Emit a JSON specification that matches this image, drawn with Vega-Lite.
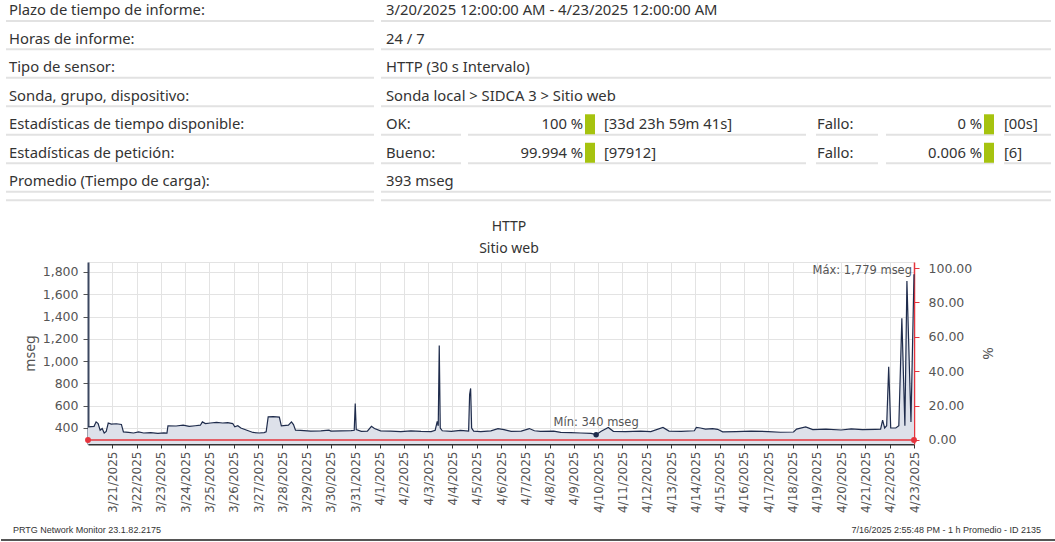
{
  "$schema": "https://vega.github.io/schema/vega-lite/v6.json",
  "padding": 0,
  "background": "white",
  "bounds": "flush",
  "spacing": 57,
  "config": {"view": {"stroke": null}, "font": "Noto Sans"},
  "datasets": {
    "info": [
      {"row": 1, "col": "A", "text": "Plazo de tiempo de informe:"},
      {"row": 1, "col": "B", "text": "3/20/2025 12:00:00 AM - 4/23/2025 12:00:00 AM"},
      {"row": 2, "col": "A", "text": "Horas de informe:"},
      {"row": 2, "col": "B", "text": "24 / 7"},
      {"row": 3, "col": "A", "text": "Tipo de sensor:"},
      {"row": 3, "col": "B", "text": "HTTP (30 s Intervalo)"},
      {"row": 4, "col": "A", "text": "Sonda, grupo, dispositivo:"},
      {"row": 4, "col": "B", "text": "Sonda local > SIDCA 3 > Sitio web"},
      {"row": 5, "col": "A", "text": "Estadísticas de tiempo disponible:"},
      {"row": 5, "col": "B", "text": "OK:"},
      {"row": 5, "col": "C", "text": "100 %"},
      {"row": 5, "col": "D", "text": "[33d 23h 59m 41s]"},
      {"row": 5, "col": "E", "text": "Fallo:"},
      {"row": 5, "col": "F", "text": "0 %"},
      {"row": 5, "col": "G", "text": "[00s]"},
      {"row": 6, "col": "A", "text": "Estadísticas de petición:"},
      {"row": 6, "col": "B", "text": "Bueno:"},
      {"row": 6, "col": "C", "text": "99.994 %"},
      {"row": 6, "col": "D", "text": "[97912]"},
      {"row": 6, "col": "E", "text": "Fallo:"},
      {"row": 6, "col": "F", "text": "0.006 %"},
      {"row": 6, "col": "G", "text": "[6]"},
      {"row": 7, "col": "A", "text": "Promedio (Tiempo de carga):"},
      {"row": 7, "col": "B", "text": "393 mseg"}
    ],
    "ms": [
      {"t": "2025-03-20T00:00", "v": 410}, {"t": "2025-03-20T06:00", "v": 415}, {"t": "2025-03-20T08:00", "v": 455},
      {"t": "2025-03-20T10:00", "v": 440}, {"t": "2025-03-20T12:00", "v": 380}, {"t": "2025-03-20T14:00", "v": 395},
      {"t": "2025-03-20T16:00", "v": 355}, {"t": "2025-03-20T18:00", "v": 370}, {"t": "2025-03-20T20:00", "v": 445},
      {"t": "2025-03-20T23:00", "v": 435}, {"t": "2025-03-21T04:00", "v": 438}, {"t": "2025-03-21T09:00", "v": 432},
      {"t": "2025-03-21T11:00", "v": 365}, {"t": "2025-03-21T16:00", "v": 360}, {"t": "2025-03-21T21:00", "v": 355},
      {"t": "2025-03-22T02:00", "v": 365}, {"t": "2025-03-22T07:00", "v": 355}, {"t": "2025-03-22T14:00", "v": 358},
      {"t": "2025-03-22T21:00", "v": 352}, {"t": "2025-03-23T03:00", "v": 356}, {"t": "2025-03-23T06:00", "v": 355},
      {"t": "2025-03-23T07:00", "v": 420}, {"t": "2025-03-23T15:00", "v": 418}, {"t": "2025-03-23T22:00", "v": 425},
      {"t": "2025-03-24T04:00", "v": 415}, {"t": "2025-03-24T10:00", "v": 420}, {"t": "2025-03-24T15:00", "v": 425},
      {"t": "2025-03-24T17:00", "v": 455}, {"t": "2025-03-24T20:00", "v": 440}, {"t": "2025-03-25T01:00", "v": 445},
      {"t": "2025-03-25T07:00", "v": 450}, {"t": "2025-03-25T13:00", "v": 445}, {"t": "2025-03-25T18:00", "v": 448},
      {"t": "2025-03-25T23:00", "v": 440}, {"t": "2025-03-26T01:00", "v": 410}, {"t": "2025-03-26T04:00", "v": 420},
      {"t": "2025-03-26T07:00", "v": 400}, {"t": "2025-03-26T13:00", "v": 380}, {"t": "2025-03-26T19:00", "v": 360},
      {"t": "2025-03-27T01:00", "v": 355}, {"t": "2025-03-27T06:00", "v": 358}, {"t": "2025-03-27T08:00", "v": 365},
      {"t": "2025-03-27T10:00", "v": 500}, {"t": "2025-03-27T15:00", "v": 502}, {"t": "2025-03-27T21:00", "v": 498},
      {"t": "2025-03-27T23:00", "v": 420}, {"t": "2025-03-28T06:00", "v": 425}, {"t": "2025-03-28T09:00", "v": 455},
      {"t": "2025-03-28T11:00", "v": 430}, {"t": "2025-03-28T13:00", "v": 380}, {"t": "2025-03-28T18:00", "v": 378},
      {"t": "2025-03-29T04:00", "v": 372}, {"t": "2025-03-29T14:00", "v": 375}, {"t": "2025-03-29T22:00", "v": 380},
      {"t": "2025-03-30T00:00", "v": 372}, {"t": "2025-03-30T10:00", "v": 374}, {"t": "2025-03-30T20:00", "v": 376},
      {"t": "2025-03-30T23:00", "v": 380}, {"t": "2025-03-31T00:00", "v": 620}, {"t": "2025-03-31T01:00", "v": 385},
      {"t": "2025-03-31T06:00", "v": 370}, {"t": "2025-03-31T12:00", "v": 372}, {"t": "2025-03-31T16:00", "v": 415},
      {"t": "2025-03-31T19:00", "v": 395}, {"t": "2025-04-01T01:00", "v": 375}, {"t": "2025-04-01T11:00", "v": 372},
      {"t": "2025-04-01T21:00", "v": 368}, {"t": "2025-04-02T07:00", "v": 375}, {"t": "2025-04-02T17:00", "v": 370},
      {"t": "2025-04-03T03:00", "v": 368}, {"t": "2025-04-03T07:00", "v": 380}, {"t": "2025-04-03T09:00", "v": 460},
      {"t": "2025-04-03T10:00", "v": 420}, {"t": "2025-04-03T11:00", "v": 1140}, {"t": "2025-04-03T12:00", "v": 400},
      {"t": "2025-04-03T14:00", "v": 375}, {"t": "2025-04-03T23:00", "v": 370}, {"t": "2025-04-04T08:00", "v": 378},
      {"t": "2025-04-04T16:00", "v": 372}, {"t": "2025-04-04T17:00", "v": 700}, {"t": "2025-04-04T18:00", "v": 755},
      {"t": "2025-04-04T19:00", "v": 400}, {"t": "2025-04-04T21:00", "v": 372}, {"t": "2025-04-05T04:00", "v": 368},
      {"t": "2025-04-05T14:00", "v": 375}, {"t": "2025-04-05T21:00", "v": 395}, {"t": "2025-04-06T03:00", "v": 385},
      {"t": "2025-04-06T10:00", "v": 370}, {"t": "2025-04-06T20:00", "v": 372}, {"t": "2025-04-07T04:00", "v": 395},
      {"t": "2025-04-07T09:00", "v": 375}, {"t": "2025-04-07T15:00", "v": 370}, {"t": "2025-04-08T04:00", "v": 372},
      {"t": "2025-04-08T11:00", "v": 360}, {"t": "2025-04-08T21:00", "v": 358}, {"t": "2025-04-09T07:00", "v": 355},
      {"t": "2025-04-09T17:00", "v": 352}, {"t": "2025-04-09T22:00", "v": 340}, {"t": "2025-04-10T03:00", "v": 370},
      {"t": "2025-04-10T10:00", "v": 405}, {"t": "2025-04-10T15:00", "v": 370}, {"t": "2025-04-11T03:00", "v": 368},
      {"t": "2025-04-11T18:00", "v": 372}, {"t": "2025-04-12T04:00", "v": 368}, {"t": "2025-04-12T16:00", "v": 405},
      {"t": "2025-04-12T22:00", "v": 372}, {"t": "2025-04-13T10:00", "v": 370}, {"t": "2025-04-13T23:00", "v": 375},
      {"t": "2025-04-14T01:00", "v": 405}, {"t": "2025-04-14T05:00", "v": 400}, {"t": "2025-04-14T10:00", "v": 390},
      {"t": "2025-04-14T17:00", "v": 395}, {"t": "2025-04-14T22:00", "v": 388}, {"t": "2025-04-15T03:00", "v": 365},
      {"t": "2025-04-15T16:00", "v": 368}, {"t": "2025-04-16T07:00", "v": 372}, {"t": "2025-04-17T00:00", "v": 368},
      {"t": "2025-04-17T12:00", "v": 362}, {"t": "2025-04-18T01:00", "v": 364}, {"t": "2025-04-18T04:00", "v": 390},
      {"t": "2025-04-18T13:00", "v": 410}, {"t": "2025-04-18T20:00", "v": 385}, {"t": "2025-04-19T09:00", "v": 390},
      {"t": "2025-04-20T00:00", "v": 382}, {"t": "2025-04-20T10:00", "v": 392}, {"t": "2025-04-20T21:00", "v": 385},
      {"t": "2025-04-21T10:00", "v": 388}, {"t": "2025-04-21T15:00", "v": 390}, {"t": "2025-04-21T17:00", "v": 470},
      {"t": "2025-04-21T19:00", "v": 400}, {"t": "2025-04-21T21:00", "v": 420}, {"t": "2025-04-21T23:00", "v": 950},
      {"t": "2025-04-22T01:00", "v": 400}, {"t": "2025-04-22T06:00", "v": 400}, {"t": "2025-04-22T09:00", "v": 420},
      {"t": "2025-04-22T12:00", "v": 1385}, {"t": "2025-04-22T15:00", "v": 420}, {"t": "2025-04-22T17:00", "v": 1720},
      {"t": "2025-04-22T21:00", "v": 455}, {"t": "2025-04-23T00:00", "v": 1779}
    ],
    "notes": [
      {"kind": "min", "t": "2025-04-09T22:00", "v": 340, "label": "Mín: 340 mseg"},
      {"kind": "max", "t": "2025-04-23T00:00", "v": 1779, "label": "Máx: 1,779 mseg"}
    ],
    "down": [
      {"t": "2025-03-20T00:00", "p": 0},
      {"t": "2025-04-23T00:00", "p": 0}
    ],
    "footer": [
      {"side": "left", "text": "PRTG Network Monitor 23.1.82.2175"},
      {"side": "right", "text": "7/16/2025 2:55:48 PM - 1 h Promedio - ID 2135"}
    ]
  },
  "vconcat": [
    {
      "width": 826,
      "height": 205,
      "data": {"name": "info"},
      "encoding": {
        "y": {"field": "row", "type": "quantitative", "scale": {"domain": [0.6, 7.8], "reverse": true, "nice": false, "zero": false}, "axis": null}
      },
      "layer": [
        {"transform": [{"filter": "datum.col=='A'"}], "mark": {"type": "rule", "color": "#e2e2e2", "strokeWidth": 2, "yOffset": 9.5},
         "encoding": {"x": {"datum": 5, "type": "quantitative", "scale": {"domain": [87, 913], "nice": false, "zero": false}, "axis": null}, "x2": {"datum": 373}}},
        {"transform": [{"filter": "datum.col=='B' && (datum.row<5 || datum.row==7)"}], "mark": {"type": "rule", "color": "#e2e2e2", "strokeWidth": 2, "yOffset": 9.5},
         "encoding": {"x": {"datum": 380, "type": "quantitative", "scale": {"domain": [87, 913], "nice": false, "zero": false}, "axis": null}, "x2": {"datum": 1050}}},
        {"transform": [{"filter": "datum.col=='B' && (datum.row==5 || datum.row==6)"}], "mark": {"type": "rule", "color": "#e2e2e2", "strokeWidth": 2, "yOffset": 9.5},
         "encoding": {"x": {"datum": 380, "type": "quantitative", "scale": {"domain": [87, 913], "nice": false, "zero": false}, "axis": null}, "x2": {"datum": 460}}},
        {"transform": [{"filter": "datum.col=='B' && (datum.row==5 || datum.row==6)"}], "mark": {"type": "rule", "color": "#e2e2e2", "strokeWidth": 2, "yOffset": 9.5},
         "encoding": {"x": {"datum": 467, "type": "quantitative", "scale": {"domain": [87, 913], "nice": false, "zero": false}, "axis": null}, "x2": {"datum": 805}}},
        {"transform": [{"filter": "datum.col=='B' && (datum.row==5 || datum.row==6)"}], "mark": {"type": "rule", "color": "#e2e2e2", "strokeWidth": 2, "yOffset": 9.5},
         "encoding": {"x": {"datum": 815, "type": "quantitative", "scale": {"domain": [87, 913], "nice": false, "zero": false}, "axis": null}, "x2": {"datum": 877}}},
        {"transform": [{"filter": "datum.col=='B' && (datum.row==5 || datum.row==6)"}], "mark": {"type": "rule", "color": "#e2e2e2", "strokeWidth": 2, "yOffset": 9.5},
         "encoding": {"x": {"datum": 885, "type": "quantitative", "scale": {"domain": [87, 913], "nice": false, "zero": false}, "axis": null}, "x2": {"datum": 993}}},
        {"transform": [{"filter": "datum.col=='B' && (datum.row==5 || datum.row==6)"}], "mark": {"type": "rule", "color": "#e2e2e2", "strokeWidth": 2, "yOffset": 9.5},
         "encoding": {"x": {"datum": 1003, "type": "quantitative", "scale": {"domain": [87, 913], "nice": false, "zero": false}, "axis": null}, "x2": {"datum": 1050}}},
        {"transform": [{"filter": "datum.col=='A' && datum.row==7"}], "mark": {"type": "rule", "color": "#e2e2e2", "strokeWidth": 2, "yOffset": 18},
         "encoding": {"x": {"datum": 5, "type": "quantitative", "scale": {"domain": [87, 913], "nice": false, "zero": false}, "axis": null}, "x2": {"datum": 373}}},
        {"transform": [{"filter": "datum.col=='B' && datum.row==7"}], "mark": {"type": "rule", "color": "#e2e2e2", "strokeWidth": 2, "yOffset": 18},
         "encoding": {"x": {"datum": 380, "type": "quantitative", "scale": {"domain": [87, 913], "nice": false, "zero": false}, "axis": null}, "x2": {"datum": 1050}}},
        {"transform": [{"filter": "datum.col=='C'"}], "mark": {"type": "rect", "color": "#a6c30f", "yOffset": -11, "y2Offset": 9},
         "encoding": {"x": {"datum": 584, "type": "quantitative", "scale": {"domain": [87, 913], "nice": false, "zero": false}, "axis": null}, "x2": {"datum": 594}, "y2": {"field": "row"}}},
        {"transform": [{"filter": "datum.col=='F'"}], "mark": {"type": "rect", "color": "#a6c30f", "yOffset": -11, "y2Offset": 9},
         "encoding": {"x": {"datum": 983, "type": "quantitative", "scale": {"domain": [87, 913], "nice": false, "zero": false}, "axis": null}, "x2": {"datum": 993}, "y2": {"field": "row"}}},
        {"transform": [{"filter": "datum.col=='A'"}], "mark": {"type": "text", "align": "left", "baseline": "middle", "font": "Noto Sans", "fontSize": 14.8, "color": "#333"},
         "encoding": {"x": {"datum": 8, "type": "quantitative", "scale": {"domain": [87, 913], "nice": false, "zero": false}, "axis": null}, "text": {"field": "text"}}},
        {"transform": [{"filter": "datum.col=='B'"}], "mark": {"type": "text", "align": "left", "baseline": "middle", "font": "Noto Sans", "fontSize": 14.8, "color": "#333"},
         "encoding": {"x": {"datum": 385, "type": "quantitative", "scale": {"domain": [87, 913], "nice": false, "zero": false}, "axis": null}, "text": {"field": "text"}}},
        {"transform": [{"filter": "datum.col=='C'"}], "mark": {"type": "text", "align": "right", "baseline": "middle", "font": "Noto Sans", "fontSize": 14.8, "color": "#333"},
         "encoding": {"x": {"datum": 582, "type": "quantitative", "scale": {"domain": [87, 913], "nice": false, "zero": false}, "axis": null}, "text": {"field": "text"}}},
        {"transform": [{"filter": "datum.col=='D'"}], "mark": {"type": "text", "align": "left", "baseline": "middle", "font": "Noto Sans", "fontSize": 14.8, "color": "#333"},
         "encoding": {"x": {"datum": 603, "type": "quantitative", "scale": {"domain": [87, 913], "nice": false, "zero": false}, "axis": null}, "text": {"field": "text"}}},
        {"transform": [{"filter": "datum.col=='E'"}], "mark": {"type": "text", "align": "left", "baseline": "middle", "font": "Noto Sans", "fontSize": 14.8, "color": "#333"},
         "encoding": {"x": {"datum": 816, "type": "quantitative", "scale": {"domain": [87, 913], "nice": false, "zero": false}, "axis": null}, "text": {"field": "text"}}},
        {"transform": [{"filter": "datum.col=='F'"}], "mark": {"type": "text", "align": "right", "baseline": "middle", "font": "Noto Sans", "fontSize": 14.8, "color": "#333"},
         "encoding": {"x": {"datum": 981, "type": "quantitative", "scale": {"domain": [87, 913], "nice": false, "zero": false}, "axis": null}, "text": {"field": "text"}}},
        {"transform": [{"filter": "datum.col=='G'"}], "mark": {"type": "text", "align": "left", "baseline": "middle", "font": "Noto Sans", "fontSize": 14.8, "color": "#333"},
         "encoding": {"x": {"datum": 1003, "type": "quantitative", "scale": {"domain": [87, 913], "nice": false, "zero": false}, "axis": null}, "text": {"field": "text"}}}
      ]
    },
    {
      "width": 826,
      "height": 182,
      "view": {"stroke": "#e3e3e3"},
      "title": {"text": "HTTP", "subtitle": "Sitio web", "anchor": "middle", "frame": "bounds", "font": "Noto Sans", "fontSize": 14, "fontWeight": "normal", "color": "#333", "subtitleFont": "Noto Sans", "subtitleFontSize": 14, "subtitleColor": "#333", "subtitlePadding": 8, "offset": 6},
      "resolve": {"scale": {"y": "independent"}},
      "encoding": {
        "x": {"field": "t", "type": "temporal",
          "scale": {"domain": [{"year": 2025, "month": 3, "date": 20}, {"year": 2025, "month": 4, "date": 23}]},
          "axis": {
            "values": [
              {"year": 2025, "month": 3, "date": 21}, {"year": 2025, "month": 3, "date": 22}, {"year": 2025, "month": 3, "date": 23},
              {"year": 2025, "month": 3, "date": 24}, {"year": 2025, "month": 3, "date": 25}, {"year": 2025, "month": 3, "date": 26},
              {"year": 2025, "month": 3, "date": 27}, {"year": 2025, "month": 3, "date": 28}, {"year": 2025, "month": 3, "date": 29},
              {"year": 2025, "month": 3, "date": 30}, {"year": 2025, "month": 3, "date": 31}, {"year": 2025, "month": 4, "date": 1},
              {"year": 2025, "month": 4, "date": 2}, {"year": 2025, "month": 4, "date": 3}, {"year": 2025, "month": 4, "date": 4},
              {"year": 2025, "month": 4, "date": 5}, {"year": 2025, "month": 4, "date": 6}, {"year": 2025, "month": 4, "date": 7},
              {"year": 2025, "month": 4, "date": 8}, {"year": 2025, "month": 4, "date": 9}, {"year": 2025, "month": 4, "date": 10},
              {"year": 2025, "month": 4, "date": 11}, {"year": 2025, "month": 4, "date": 12}, {"year": 2025, "month": 4, "date": 13},
              {"year": 2025, "month": 4, "date": 14}, {"year": 2025, "month": 4, "date": 15}, {"year": 2025, "month": 4, "date": 16},
              {"year": 2025, "month": 4, "date": 17}, {"year": 2025, "month": 4, "date": 18}, {"year": 2025, "month": 4, "date": 19},
              {"year": 2025, "month": 4, "date": 20}, {"year": 2025, "month": 4, "date": 21}, {"year": 2025, "month": 4, "date": 22},
              {"year": 2025, "month": 4, "date": 23}
            ],
            "format": "%-m/%-d/%Y", "labelAngle": -90, "labelFont": "DejaVu Sans", "labelFontSize": 12, "labelColor": "#555",
            "labelPadding": 3, "labelOverlap": false, "labelFlush": false, "labelBound": false,
            "tickColor": "#333", "tickSize": 4, "domainColor": "#333", "domainWidth": 2,
            "grid": true, "gridColor": "#e3e3e3", "title": null
          }
        }
      },
      "layer": [
        {
          "encoding": {
            "y": {"field": "v", "type": "quantitative",
              "scale": {"domain": [256.4, 1889.7], "nice": false, "zero": false, "clamp": true},
              "axis": {
                "values": [400, 600, 800, 1000, 1200, 1400, 1600, 1800], "format": ",.0f",
                "labelFont": "DejaVu Sans", "labelFontSize": 12.5, "labelColor": "#555", "labelPadding": 5,
                "tickColor": "#555", "tickSize": 5, "domainColor": "#3b4760", "domainWidth": 2,
                "grid": true, "gridColor": "#e3e3e3",
                "title": "mseg", "titleFont": "Noto Sans", "titleFontSize": 14, "titleFontWeight": "normal", "titleColor": "#555", "titlePadding": 5
              }
            }
          },
          "layer": [
            {"data": {"name": "ms"}, "mark": {"type": "area", "color": "#dde1ea", "opacity": 1}},
            {"data": {"name": "ms"}, "mark": {"type": "line", "color": "#1f2c4c", "strokeWidth": 1.2}},
            {"data": {"name": "notes"}, "transform": [{"filter": "datum.kind=='min'"}], "mark": {"type": "point", "filled": true, "color": "#1f2c4c", "size": 30, "opacity": 1}},
            {"data": {"name": "notes"}, "transform": [{"filter": "datum.kind=='min'"}], "mark": {"type": "text", "align": "center", "baseline": "middle", "dy": -12, "font": "DejaVu Sans", "fontSize": 11.5, "color": "#555"}, "encoding": {"text": {"field": "label"}}},
            {"data": {"name": "notes"}, "transform": [{"filter": "datum.kind=='max'"}], "mark": {"type": "text", "align": "right", "baseline": "middle", "dx": -2, "dy": -3, "font": "DejaVu Sans", "fontSize": 11.5, "color": "#555"}, "encoding": {"text": {"field": "label"}}}
          ]
        },
        {
          "data": {"name": "down"},
          "encoding": {
            "y": {"field": "p", "type": "quantitative",
              "scale": {"domain": [-2.33, 103.49], "nice": false, "zero": false},
              "axis": {
                "orient": "right", "values": [0, 20, 40, 60, 80, 100], "format": ".2f",
                "labelFont": "DejaVu Sans", "labelFontSize": 12.5, "labelColor": "#555", "labelPadding": 9,
                "tickColor": "#e5343d", "tickSize": 5, "domainColor": "#e5343d", "domainWidth": 1.5, "grid": false,
                "title": "%", "titleFont": "Noto Sans", "titleFontSize": 15, "titleFontWeight": "normal", "titleColor": "#555", "titlePadding": 8
              }
            }
          },
          "layer": [
            {"mark": {"type": "line", "color": "#e5343d", "strokeWidth": 1.5}},
            {"mark": {"type": "point", "filled": true, "color": "#e5343d", "size": 35, "opacity": 1}}
          ]
        }
      ]
    },
    {
      "width": 826,
      "height": 39,
      "data": {"name": "footer"},
      "layer": [
        {"transform": [{"filter": "datum.side=='left'"}], "mark": {"type": "text", "align": "left", "baseline": "middle", "font": "Liberation Sans", "fontSize": 9, "color": "#333"},
         "encoding": {"x": {"datum": 12, "type": "quantitative", "scale": {"domain": [87, 913], "nice": false, "zero": false}, "axis": null},
                      "y": {"datum": 1, "type": "quantitative", "scale": {"domain": [0, 3.9], "nice": false, "zero": false}, "axis": null},
                      "text": {"field": "text"}}},
        {"transform": [{"filter": "datum.side=='right'"}], "mark": {"type": "text", "align": "right", "baseline": "middle", "font": "Liberation Sans", "fontSize": 9, "color": "#333"},
         "encoding": {"x": {"datum": 1040, "type": "quantitative", "scale": {"domain": [87, 913], "nice": false, "zero": false}, "axis": null},
                      "y": {"datum": 1, "type": "quantitative", "scale": {"domain": [0, 3.9], "nice": false, "zero": false}, "axis": null},
                      "text": {"field": "text"}}},
        {"transform": [{"filter": "datum.side=='left'"}], "mark": {"type": "rule", "color": "#555", "strokeWidth": 2},
         "encoding": {"x": {"datum": 0, "type": "quantitative", "scale": {"domain": [87, 913], "nice": false, "zero": false}, "axis": null},
                      "x2": {"datum": 1055},
                      "y": {"datum": 0, "type": "quantitative", "scale": {"domain": [0, 3.9], "nice": false, "zero": false}, "axis": null}}}
      ]
    }
  ]
}
